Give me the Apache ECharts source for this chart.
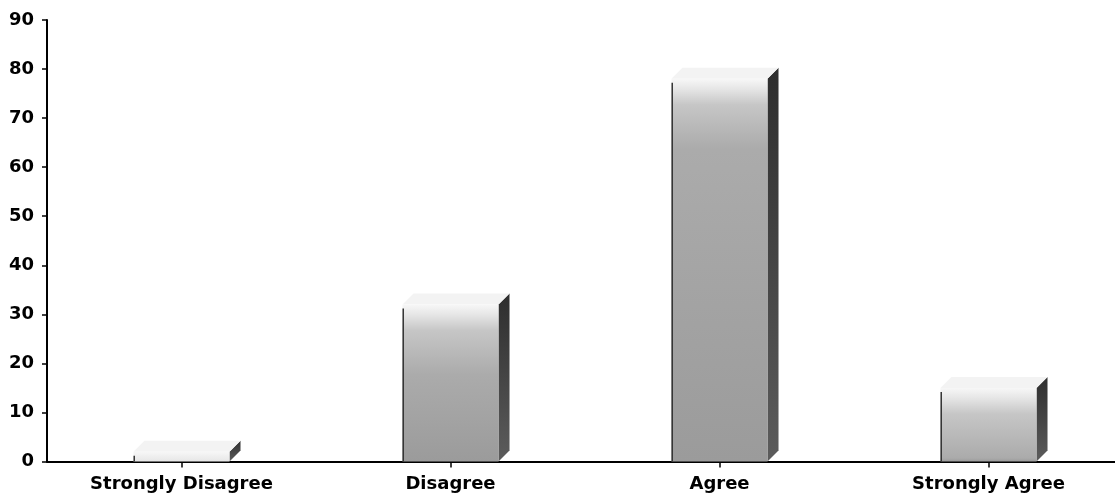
<!DOCTYPE html>
<html>
<head>
<meta charset="utf-8">
<script src="https://cdn.jsdelivr.net/npm/echarts@6/dist/echarts.min.js"></script>
<style>
  html, body { margin: 0; padding: 0; background: #fff; }
  #chart { width: 1115px; height: 498px; }
</style>
</head>
<body>
<div id="chart"></div>
<script>
// Survey responses per answer option
const categories = ['Strongly Disagree', 'Disagree', 'Agree', 'Strongly Agree'];
const responses = [2, 32, 78, 15];
const yMax = 90;
const yStep = 10;

const FONT = '"DejaVu Sans", "Liberation Sans", sans-serif';
const DEPTH = 11;        // 3D offset of the bar's back face, px
const BAR_RATIO = 0.357; // front face width / category band width

// Front-face shading: light cap fading into mid-grey, stops placed in pixels
function frontGradient(h) {
  const px = [0, 10, 26, 70];
  const cols = ['#f7f7f7', '#e6e6e6', '#c6c6c6', '#ababab'];
  const stops = [];
  let last = -1;
  for (let i = 0; i < px.length; i++) {
    const off = Math.min(1, px[i] / Math.max(h, 1));
    if (off <= last) break;
    stops.push({ offset: off, color: cols[i] });
    last = off;
  }
  if (last < 1) stops.push({ offset: 1, color: '#9b9b9b' });
  return new echarts.graphic.LinearGradient(0, 0, 0, 1, stops);
}

function renderBar3D(params, api) {
  const idx = api.value(0);
  const val = api.value(1);
  const top = api.coord([idx, val]);
  const base = api.coord([idx, 0]);
  const bw = api.size([1, 0])[0] * BAR_RATIO;
  const x0 = top[0] - bw / 2, x1 = top[0] + bw / 2;
  const yT = top[1], yB = base[1];
  const h = yB - yT;
  const d = DEPTH;
  return {
    type: 'group',
    children: [
      { // side face
        type: 'polygon',
        shape: { points: [[x1, yT], [x1 + d, yT - d], [x1 + d, yB - d], [x1, yB]] },
        style: {
          fill: new echarts.graphic.LinearGradient(0, 0, 0, 1, [
            { offset: 0, color: '#2e2e2e' },
            { offset: 1, color: '#5c5c5c' }
          ])
        }
      },
      { // top face
        type: 'polygon',
        shape: { points: [[x0, yT], [x0 + d, yT - d], [x1 + d, yT - d], [x1, yT]] },
        style: { fill: '#f3f3f3' }
      },
      { // front face
        type: 'rect',
        shape: { x: x0, y: yT, width: bw, height: h },
        style: { fill: frontGradient(h) }
      },
      { // dark left edge
        type: 'line',
        shape: { x1: x0 + 0.75, y1: yT + Math.min(4, h / 2), x2: x0 + 0.75, y2: yB },
        style: { stroke: '#333', lineWidth: 1.5 }
      }
    ]
  };
}

const chart = echarts.init(document.getElementById('chart'), null, { renderer: 'canvas' });
chart.setOption({
  animation: false,
  backgroundColor: '#ffffff',
  // plot area runs a little past the right edge of the canvas
  grid: { left: 47, top: 20, width: 1076, height: 441.5, containLabel: false, outerBoundsMode: 'none' },
  xAxis: {
    type: 'category',
    data: categories,
    boundaryGap: true,
    axisLine: { lineStyle: { color: '#000', width: 2 } },
    axisTick: { show: true, alignWithLabel: true, length: 6, lineStyle: { color: '#000', width: 1.5 } },
    axisLabel: {
      interval: 0, margin: 14, color: '#000',
      fontFamily: FONT, fontWeight: 'bold', fontSize: 18
    },
    splitLine: { show: false }
  },
  yAxis: {
    type: 'value',
    min: 0, max: yMax, interval: yStep,
    axisLine: { show: true, lineStyle: { color: '#000', width: 2 } },
    axisTick: { show: true, length: 5, inside: false, lineStyle: { color: '#000', width: 1.5 } },
    axisLabel: {
      margin: 13, color: '#000',
      fontFamily: FONT, fontWeight: 'bold', fontSize: 18
    },
    splitLine: { show: false }
  },
  series: [{
    type: 'custom',
    renderItem: renderBar3D,
    encode: { x: 0, y: 1 },
    data: categories.map((c, i) => [i, responses[i]]),
    z: 1
  }]
});
</script>
</body>
</html>
